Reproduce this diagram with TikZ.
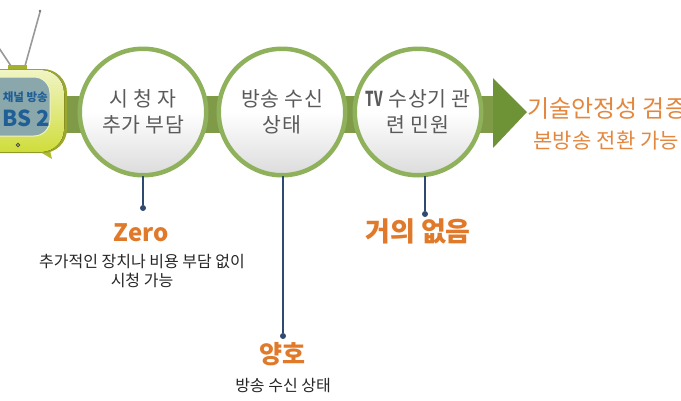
\documentclass[tikz,border=0pt]{standalone}
\usepackage{fontspec}
\usepackage{graphicx}
\setmainfont{Noto Sans CJK KR}
\definecolor{ringgreen}{HTML}{8FB15C}
\definecolor{bargreen}{HTML}{7F9B48}
\definecolor{arrowgreen}{HTML}{6E9236}
\definecolor{orangetxt}{HTML}{E07A2A}
\definecolor{greytxt}{HTML}{5A5A5A}
\definecolor{navy}{HTML}{2F4A70}
\definecolor{tvyellow}{HTML}{CFDD3A}
\definecolor{tvscreen}{HTML}{8AA8AC}
\definecolor{tvblue}{HTML}{1F5F96}
\tikzset{
  ringnode/.style={circle,draw=ringgreen,line width=4.5pt,minimum size=126.5pt,inner sep=0pt,
    top color=white,bottom color=black!14,middle color=white,align=center,
    font=\fontsize{20.5}{26}\selectfont\addfontfeature{LetterSpace=3},text=greytxt},
  dotnode/.style={circle,fill=navy,minimum size=6pt,inner sep=0pt},
  stemline/.style={navy,line width=1.1pt},
  subline/.style={font=\fontsize{16}{19}\selectfont,text=black!85,align=center,inner sep=0pt},
  sideline/.style={text=orangetxt!90!white,anchor=west,inner sep=0pt}
}
\begin{document}
\begin{tikzpicture}[x=1pt,y=-1pt]
\useasboundingbox (0,0) rectangle (681,400);
\fill[white] (0,0) rectangle (681,400);
\begin{scope}
\clip (0,0) rectangle (681,400);
% bar and arrow
\fill[bargreen] (60,96) rectangle (493,133);
\fill[arrowgreen] (493,78) -- (527,112) -- (493,148) -- cycle;
% antennas
\draw[black!40,line width=1.6pt] (25,66) -- (40,12);
\fill[black!55] (40,11) circle (1.4pt);
\draw[black!40,line width=1.6pt] (11,66) -- (-5,42);
% tv
\fill[tvyellow!80!black] (8,65) rectangle (27,70);
\fill[tvyellow!85!black] (37,150) -- (52,159) -- (50,150) -- cycle;
\fill[tvyellow!75!black,rounded corners=24pt] (-30,69) rectangle (67,153);
\fill[top color=tvyellow!30!white,bottom color=tvyellow,rounded corners=23pt] (-30,70) rectangle (64,152);
\fill[tvscreen,draw=white!70!tvyellow,line width=1pt,rounded corners=16pt] (-25,77) rectangle (50,136);
\draw[black!70,fill=tvyellow,line width=.8pt] (18,145) circle (1.8pt);
\node[inner sep=0pt,anchor=east,text=tvblue,font=\fontsize{11.5}{12}\selectfont\bfseries] (tvsub) at (48,97) {채널 방송};
\node[inner sep=0pt,anchor=west,text=tvblue,font=\fontsize{22}{24}\selectfont\bfseries] (tvname) at (2,118) {BS 2};
% circles
\node[ringnode] (c1) at (143,112) {시 청 자\\추가 부담};
\node[ringnode] (c2) at (282,112) {방송 수신\\상태};
\node[ringnode] (c3) at (418,112) {\scalebox{.65}[1]{\textbf{TV}} 수상기 관\\련 민원};
% dots and stems
\node[dotnode] (d1) at (143,208) {};
\node[dotnode] (d2) at (283,336) {};
\node[dotnode] (d3) at (425,214) {};
\draw[stemline] (143,176) -- (d1);
\draw[stemline] (283,176) -- (d2);
\draw[stemline] (425,176) -- (d3);
% labels
\node[font=\fontsize{24}{28}\selectfont\bfseries,text=orangetxt] (h1) at (141,233) {Zero};
\node[subline] (s1) at (142,271) {추가적인 장치나 비용 부담 없이\\시청 가능};
\node[font=\fontsize{25}{28}\selectfont\bfseries,text=orangetxt] (h2) at (282,354) {양호};
\node[subline] (s2) at (283,386) {방송 수신 상태};
\node[font=\fontsize{27}{30}\selectfont\bfseries,text=orangetxt] (h3) at (418,231) {거의 없음};
\node[sideline,font=\fontsize{24}{27}\selectfont] (t1) at (527,109) {기술안정성 검증};
\node[sideline,font=\fontsize{21}{23}\selectfont\addfontfeature{LetterSpace=1}] (t2) at (533,141) {본방송 전환 가능};
\end{scope}
\end{tikzpicture}
\end{document}
